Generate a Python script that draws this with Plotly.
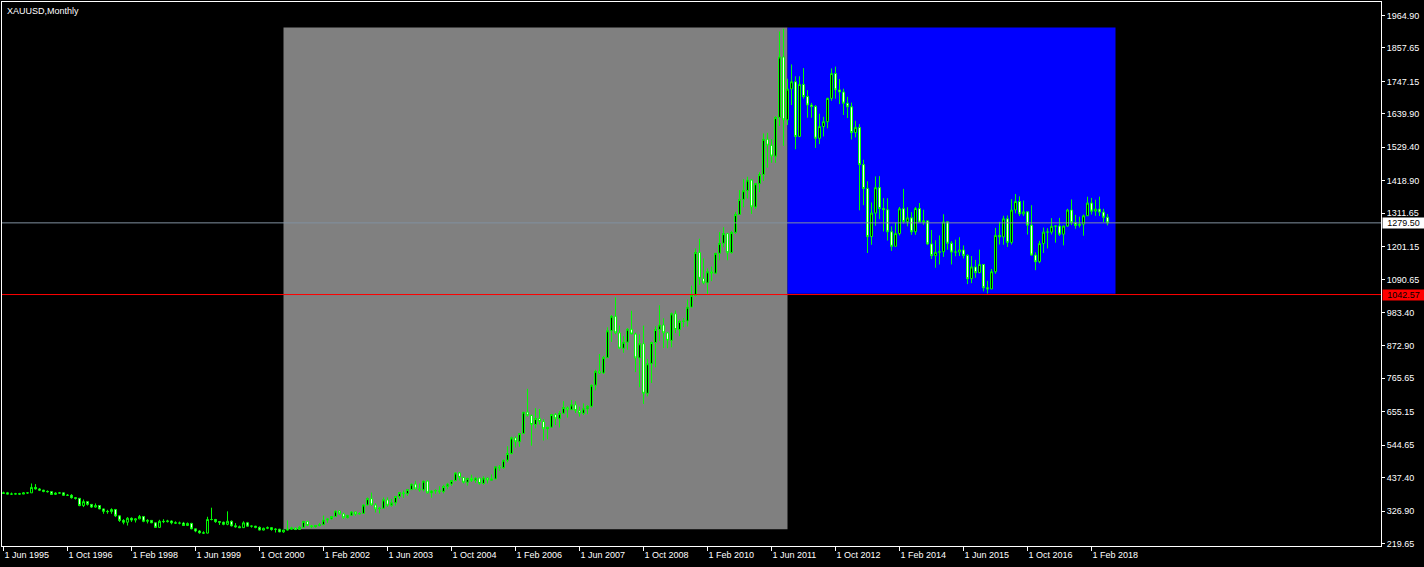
import plotly.graph_objects as go
import pandas as pd

# ---------------- data (monthly XAUUSD, Jun 1995 - Jun 2018) ----------------
first_month = "1995-06-01"

open_ = [
    385, 387, 383, 383, 384, 383, 387,                                   # 1995
    387, 405, 400, 396, 392, 391, 382, 386, 387, 379, 379, 371,          # 1996
    369, 345, 358, 349, 340, 345, 334, 326, 325, 332, 311, 296,          # 1997
    290, 303, 297, 301, 309, 293, 296, 288, 273, 293, 292, 294,          # 1998
    288, 287, 287, 279, 286, 268, 261, 255, 254, 299, 299, 292,          # 1999
    290, 283, 293, 278, 275, 272, 288, 277, 277, 273, 264, 270,          # 2000
    272, 266, 267, 258, 264, 267, 271, 266, 273, 293, 279, 275,          # 2001
    279, 282, 297, 301, 309, 327, 318, 305, 313, 324, 317, 319,          # 2002
    347, 368, 347, 334, 336, 364, 346, 354, 375, 388, 384, 398,          # 2003
    416, 400, 397, 426, 387, 393, 395, 391, 408, 416, 428, 453,          # 2004
    438, 422, 435, 428, 436, 418, 436, 429, 433, 473, 470, 495,          # 2005
    517, 569, 556, 583, 654, 643, 613, 633, 623, 599, 604, 646,          # 2006
    632, 650, 669, 662, 678, 659, 650, 665, 673, 743, 789, 783,          # 2007
    834, 923, 971, 916, 865, 885, 928, 912, 833, 880, 716, 814,          # 2008
    884, 927, 942, 916, 891, 979, 927, 954, 955, 1001, 1040, 1182,       # 2009
    1096, 1081, 1118, 1113, 1179, 1212, 1244, 1181, 1248, 1307, 1357, 1386,  # 2010
    1421, 1332, 1409, 1439, 1556, 1536, 1500, 1628, 1828, 1620, 1722, 1746,  # 2011
    1565, 1737, 1697, 1669, 1664, 1559, 1598, 1614, 1691, 1773, 1719, 1712,  # 2012
    1675, 1663, 1578, 1595, 1472, 1393, 1234, 1312, 1396, 1327, 1323, 1250,  # 2013
    1202, 1244, 1326, 1284, 1296, 1250, 1327, 1282, 1286, 1210, 1171, 1182,  # 2014
    1184, 1283, 1212, 1183, 1183, 1190, 1172, 1095, 1134, 1115, 1142, 1065,  # 2015
    1061, 1118, 1238, 1233, 1293, 1215, 1322, 1350, 1309, 1316, 1272, 1173,  # 2016
    1151, 1211, 1249, 1249, 1268, 1269, 1242, 1269, 1322, 1280, 1271, 1275,  # 2017
    1303, 1345, 1318, 1325, 1315, 1298,                                  # 2018
]

high = [
    391, 390, 388, 387, 387, 389, 389,
    418, 416, 403, 397, 395, 392, 389, 390, 388, 383, 383, 373,
    369, 365, 358, 349, 352, 346, 335, 331, 336, 334, 312, 300,
    307, 306, 303, 314, 310, 300, 297, 289, 298, 300, 298, 296,
    293, 292, 291, 289, 288, 268, 264, 260, 308, 338, 301, 294,
    292, 326, 296, 287, 279, 293, 291, 279, 278, 276, 272, 276,
    273, 270, 268, 265, 296, 275, 272, 278, 294, 294, 280, 281,
    288, 312, 304, 310, 328, 330, 322, 314, 327, 325, 323, 350,
    372, 388, 353, 341, 372, 372, 367, 377, 390, 395, 399, 417,
    427, 418, 427, 428, 396, 399, 409, 414, 420, 430, 455, 456,
    438, 437, 447, 438, 436, 442, 438, 448, 474, 479, 497, 541,
    573, 574, 584, 654, 731, 646, 667, 664, 631, 605, 648, 651,
    658, 690, 673, 694, 690, 672, 683, 677, 745, 794, 846, 840,
    934, 975, 1033, 940, 905, 932, 989, 917, 911, 940, 830, 887,
    938, 1007, 964, 919, 983, 990, 960, 965, 1026, 1072, 1195, 1227,
    1162, 1129, 1135, 1180, 1249, 1265, 1245, 1253, 1316, 1388, 1424, 1432,
    1424, 1411, 1447, 1575, 1577, 1556, 1632, 1912, 1921, 1756, 1803, 1764,
    1764, 1791, 1718, 1676, 1669, 1640, 1630, 1693, 1790, 1796, 1755, 1723,
    1696, 1677, 1617, 1606, 1488, 1417, 1347, 1433, 1434, 1361, 1361, 1268,
    1280, 1332, 1392, 1331, 1315, 1332, 1345, 1323, 1288, 1256, 1222, 1238,
    1308, 1284, 1219, 1224, 1232, 1205, 1176, 1170, 1157, 1191, 1143, 1088,
    1127, 1263, 1283, 1303, 1304, 1358, 1375, 1367, 1353, 1318, 1338, 1182,
    1220, 1264, 1262, 1295, 1271, 1296, 1270, 1326, 1357, 1306, 1300, 1307,
    1366, 1362, 1356, 1366, 1326, 1309,
]

low = [
    384, 382, 380, 382, 381, 383, 384,
    387, 398, 393, 389, 388, 380, 380, 384, 377, 377, 368, 365,
    343, 340, 345, 337, 338, 333, 318, 318, 318, 307, 291, 283,
    279, 291, 289, 300, 290, 286, 287, 272, 272, 287, 289, 283,
    284, 283, 278, 278, 267, 257, 252, 251, 253, 296, 288, 281,
    280, 280, 276, 272, 271, 271, 276, 272, 270, 263, 263, 267,
    262, 256, 257, 255, 263, 265, 264, 265, 270, 277, 270, 272,
    276, 280, 288, 299, 307, 315, 301, 302, 310, 311, 315, 318,
    345, 345, 322, 319, 336, 341, 341, 345, 367, 370, 377, 396,
    399, 391, 392, 385, 371, 384, 384, 385, 399, 410, 425, 428,
    418, 411, 423, 420, 414, 414, 418, 427, 432, 460, 466, 488,
    514, 537, 539, 582, 639, 543, 600, 613, 560, 564, 603, 611,
    603, 647, 636, 662, 651, 639, 644, 647, 669, 726, 780, 780,
    834, 886, 911, 864, 850, 860, 915, 786, 736, 681, 706, 750,
    802, 890, 866, 865, 868, 915, 905, 935, 937, 1001, 1036, 1075,
    1076, 1045, 1087, 1110, 1156, 1199, 1156, 1178, 1243, 1306, 1331, 1360,
    1309, 1325, 1381, 1418, 1462, 1478, 1478, 1600, 1534, 1603, 1669, 1523,
    1563, 1690, 1627, 1627, 1527, 1540, 1565, 1592, 1683, 1690, 1672, 1636,
    1626, 1555, 1562, 1321, 1338, 1180, 1207, 1270, 1292, 1251, 1221, 1187,
    1202, 1238, 1277, 1268, 1240, 1240, 1282, 1273, 1206, 1160, 1131, 1142,
    1167, 1191, 1142, 1169, 1170, 1162, 1077, 1080, 1098, 1113, 1053, 1046,
    1061, 1111, 1208, 1207, 1200, 1208, 1311, 1302, 1302, 1241, 1171, 1123,
    1146, 1180, 1195, 1241, 1214, 1236, 1205, 1266, 1272, 1260, 1264, 1237,
    1302, 1307, 1303, 1302, 1282, 1271,
]

close = [
    387, 383, 383, 384, 383, 387, 387,
    405, 400, 396, 392, 391, 382, 386, 387, 379, 379, 371, 369,
    345, 358, 349, 340, 345, 334, 326, 325, 332, 311, 296, 290,
    303, 297, 301, 309, 293, 296, 288, 273, 293, 292, 294, 288,
    287, 287, 279, 286, 268, 261, 255, 254, 299, 299, 292, 290,
    283, 293, 278, 275, 272, 288, 277, 277, 273, 264, 270, 272,
    266, 267, 258, 264, 267, 271, 266, 273, 293, 279, 275, 279,
    282, 297, 301, 309, 327, 318, 305, 313, 324, 317, 319, 347,
    368, 347, 334, 336, 364, 346, 354, 375, 388, 384, 398, 416,
    400, 397, 426, 387, 393, 395, 391, 408, 416, 428, 453, 438,
    422, 435, 428, 436, 418, 436, 429, 433, 473, 470, 495, 517,
    569, 556, 583, 654, 643, 613, 633, 623, 599, 604, 646, 632,
    650, 669, 662, 678, 659, 650, 665, 673, 743, 789, 783, 834,
    923, 971, 916, 865, 885, 928, 912, 833, 880, 716, 814, 884,
    927, 942, 916, 891, 979, 927, 954, 955, 1001, 1040, 1182, 1096,
    1081, 1118, 1113, 1179, 1212, 1244, 1181, 1248, 1307, 1357, 1386, 1421,
    1332, 1409, 1439, 1556, 1536, 1500, 1628, 1828, 1620, 1722, 1746, 1565,
    1737, 1697, 1669, 1664, 1559, 1598, 1614, 1691, 1773, 1719, 1712, 1675,
    1663, 1578, 1595, 1472, 1393, 1234, 1312, 1396, 1327, 1323, 1250, 1202,
    1244, 1326, 1284, 1296, 1250, 1327, 1282, 1286, 1210, 1171, 1182, 1184,
    1283, 1212, 1183, 1183, 1190, 1172, 1095, 1134, 1115, 1142, 1065, 1061,
    1118, 1238, 1233, 1293, 1215, 1322, 1350, 1309, 1316, 1272, 1173, 1151,
    1211, 1249, 1249, 1268, 1269, 1242, 1269, 1322, 1280, 1271, 1275, 1303,
    1345, 1318, 1325, 1315, 1298, 1279.5,
]

# price-axis tick labels (as printed on the chart)
y_ticks = [1964.90, 1857.65, 1747.15, 1639.90, 1529.40, 1418.90, 1311.65, 1201.15,
           1090.65, 983.40, 872.90, 765.65, 655.15, 544.65, 437.40, 326.90, 219.65]
label_every = 16  # months between time labels

# horizontal levels / objects
bid_price = 1279.50
red_level = 1042.57
gray_box = dict(start="2001-04-01", end="2011-10-01", low=267, high=1925)
blue_box = dict(start="2011-10-01", end="2018-08-01", low=1045, high=1925)

# ---------------- build ----------------
months = pd.date_range(first_month, periods=len(close), freq="MS")
idx = list(range(len(close)))


def month_index(date_str):
    d = pd.Timestamp(date_str)
    f = pd.Timestamp(first_month)
    return (d.year - f.year) * 12 + (d.month - f.month)


tick_idx = idx[::label_every]
tick_text = [f"{months[i].day} {months[i].strftime('%b %Y')}" for i in tick_idx]

FONT = "Tahoma, 'Liberation Sans', Arial, sans-serif"
LIME = "#00ff00"

fig = go.Figure()
fig.add_trace(go.Candlestick(
    x=idx, open=open_, high=high, low=low, close=close,
    increasing=dict(line=dict(color=LIME, width=1), fillcolor="#000000"),
    decreasing=dict(line=dict(color=LIME, width=1), fillcolor="#ffffff"),
    whiskerwidth=0, showlegend=False, hoverinfo="skip",
))

for box, col in ((gray_box, "#808080"), (blue_box, "#0000ff")):
    fig.add_shape(type="rect", xref="x", yref="y",
                  x0=month_index(box["start"]), x1=month_index(box["end"]),
                  y0=box["low"], y1=box["high"],
                  fillcolor=col, line=dict(width=0), layer="below")

fig.add_shape(type="line", xref="paper", yref="y", x0=0, x1=1, y0=bid_price, y1=bid_price,
              line=dict(color="#8090a0", width=1), layer="above")
fig.add_shape(type="line", xref="paper", yref="y", x0=0, x1=1, y0=red_level, y1=red_level,
              line=dict(color="#ff0000", width=1), layer="above")

fig.add_annotation(text="XAUUSD,Monthly", xref="paper", yref="paper", x=0, y=1,
                   xanchor="left", yanchor="top", xshift=4, yshift=-3, showarrow=False,
                   font=dict(family=FONT, size=9, color="#ffffff"), borderpad=0)

for val, bg in ((bid_price, "#ffffff"), (red_level, "#ff0000")):
    fig.add_annotation(text=f"{val:.2f}", xref="paper", yref="y", x=1, y=val,
                       xanchor="left", yanchor="middle", xshift=1, showarrow=False,
                       font=dict(family=FONT, size=9, color="#000000"),
                       bgcolor=bg, width=41, height=10, borderpad=0, align="center")

fig.update_layout(
    width=1424, height=567,
    margin=dict(l=2, r=43, t=2, b=21, pad=0),
    paper_bgcolor="#000000", plot_bgcolor="#000000",
    font=dict(family=FONT, size=9, color="#ffffff"),
    showlegend=False,
    xaxis=dict(
        range=[(2 - 3.5) / 4, (1381 - 3.5) / 4],
        rangeslider=dict(visible=False),
        showgrid=False, zeroline=False,
        showline=True, mirror=True, linecolor="#ffffff", linewidth=1,
        ticks="outside", ticklen=4, tickcolor="#ffffff", tickwidth=1,
        tickvals=tick_idx, ticktext=tick_text,
        ticklabelposition="outside right",
        tickfont=dict(family=FONT, size=9, color="#ffffff"),
        fixedrange=True,
    ),
    yaxis=dict(
        side="right",
        range=[219.65 - 2.5 * 3.3054, 1964.90 + 13.5 * 3.3054],
        showgrid=False, zeroline=False,
        showline=True, mirror=True, linecolor="#ffffff", linewidth=1,
        ticks="outside", ticklen=3, tickcolor="#ffffff", tickwidth=1,
        tickvals=y_ticks, ticktext=[f"{v:.2f}" for v in y_ticks],
        tickfont=dict(family=FONT, size=9, color="#ffffff"),
        fixedrange=True,
    ),
)

# remove the page's default body margin so the figure sits at the window's corner
page_js = ("document.body.style.margin='0';document.body.style.padding='0';"
           "document.body.style.background='#000';document.body.style.overflow='hidden';")
fig.write_html("out.html", post_script=page_js, config={"displayModeBar": False})
